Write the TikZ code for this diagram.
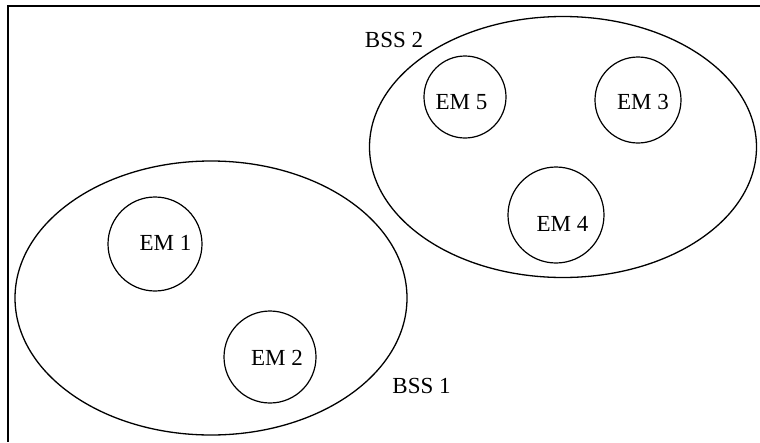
\documentclass[tikz,border=0pt]{standalone}
\usepackage{fontspec}
\setmainfont{Liberation Serif}
\usetikzlibrary{shapes.geometric}
\begin{document}
\begin{tikzpicture}[x=1pt,y=-1pt,
  bss/.style={ellipse, draw, line width=1.3pt, inner sep=0pt},
  em/.style={circle, draw, line width=1.2pt, inner sep=0pt},
  lbl/.style={anchor=base, inner sep=0pt, font=\fontsize{23}{23}\selectfont}]
\useasboundingbox (0,0) rectangle (760,442);
% open frame: top and left sides only
\coordinate (frameTL) at (8,6);
\coordinate (frameTR) at (760,6);
\coordinate (frameBL) at (8,442);
\draw[line width=1.8pt] (frameTR) -- (frameTL) -- (frameBL);
% the two basic service sets
\node[bss, minimum width=392, minimum height=274] (bss1) at (211,298) {};
\node[bss, minimum width=387, minimum height=261] (bss2) at (563,147) {};
% stations
\node[em, minimum size=94] (em1) at (155,244) {};
\node[em, minimum size=92] (em2) at (270,357) {};
\node[em, minimum size=82] (em5) at (465,97) {};
\node[em, minimum size=86] (em3) at (638,100) {};
\node[em, minimum size=96] (em4) at (556,215) {};
% labels
\node[lbl] (t1) at (165.5,250) {EM 1};
\node[lbl] (t2) at (277,365) {EM 2};
\node[lbl] (t5) at (461.5,109) {EM 5};
\node[lbl] (t3) at (643,109) {EM 3};
\node[lbl] (t4) at (562.5,231) {EM 4};
\node[lbl] (b1) at (421.5,393) {BSS 1};
\node[lbl] (b2) at (394,47) {BSS 2};
\end{tikzpicture}
\end{document}
